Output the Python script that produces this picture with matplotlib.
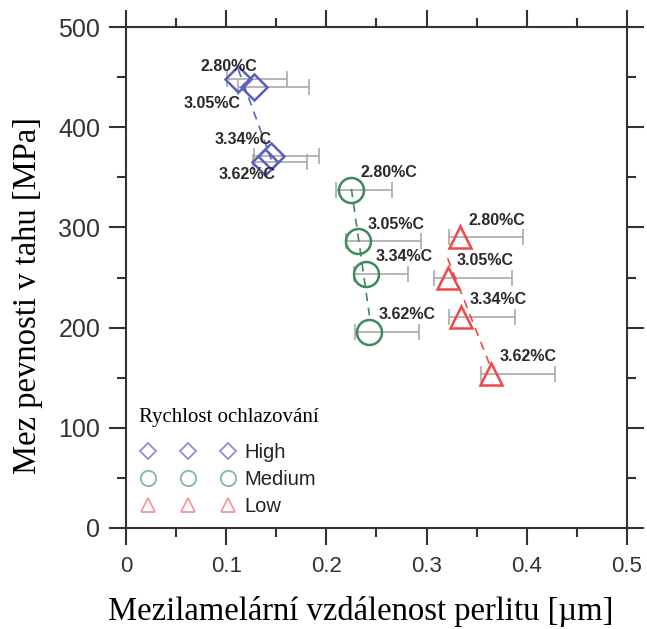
# plot.py - pearlite spacing vs tensile strength
import matplotlib
matplotlib.use("Agg")
import matplotlib.pyplot as plt
from matplotlib.lines import Line2D
from matplotlib.ticker import MultipleLocator, FuncFormatter
import numpy as np

# --- data ---
carbon = ["2.80%C", "3.05%C", "3.34%C", "3.62%C"]

high_x = [0.112, 0.128, 0.145, 0.139]
high_y = [448, 440, 371, 365]
high_lo = [0.101, 0.112, 0.128, 0.127]
high_hi = [0.161, 0.183, 0.193, 0.181]

medium_x = [0.225, 0.232, 0.240, 0.243]
medium_y = [337, 286, 254, 196]
medium_lo = [0.210, 0.220, 0.228, 0.229]
medium_hi = [0.266, 0.294, 0.281, 0.292]

low_x = [0.333, 0.321, 0.334, 0.364]
low_y = [290, 250, 211, 154]
low_lo = [0.322, 0.307, 0.322, 0.354]
low_hi = [0.396, 0.385, 0.388, 0.428]

series_names = ["High", "Medium", "Low"]

# label offsets (points) for each series, and alignment
high_offsets = [(-7, 9), (-30, -12), (-20, 12), (-13, -9)]
side_offsets = [(6.5, 12.5)] * 4

SANS = "Liberation Sans"
SERIF = "Liberation Serif"
DARK = "#333333"

fig = plt.figure(figsize=(6.47, 6.29), dpi=100)
ax = fig.add_axes([0.1947, 0.1606, 0.7743, 0.7964])

series = [
    (high_x, high_y, high_lo, high_hi, "D", 13, "#5a62b9", "#8a90d0", 8, high_offsets, "center"),
    (medium_x, medium_y, medium_lo, medium_hi, "o", 18, "#3c8b5b", "#80b99b", 11, side_offsets, "left"),
    (low_x, low_y, low_lo, low_hi, "^", 16, "#f04848", "#f39a9a", 10, side_offsets, "left"),
]

handles = []
for (x, y, lo, hi, mk, ms, col, lcol, lms, offs, ha), name in zip(series, series_names):
    x = np.array(x)
    y = np.array(y)
    xerr = [x - np.array(lo), np.array(hi) - x]
    ax.errorbar(x, y, xerr=xerr, fmt="none", ecolor="#a9a9a9", elinewidth=1.2,
                capsize=6, capthick=1.2, zorder=1)

    # linear fit drawn across the x range of the series
    k, b = np.polyfit(x, y, 1)
    xs = np.array([x.min(), x.max()])
    ax.plot(xs, k * xs + b, ls=(0, (5, 4)), color=col, lw=1.2, zorder=2)

    ax.plot(x, y, ls="none", marker=mk, ms=ms, mfc="none", mec=col, mew=1.8, zorder=3)

    for xi, yi, lab, off in zip(x, y, carbon, offs):
        ax.annotate(lab, (xi, yi), xytext=off, textcoords="offset points",
                    ha=ha, va="center", fontsize=11.5, fontweight="bold",
                    family=SANS, color="#2a2a2a", zorder=4)

    handles.append(Line2D([], [], ls="none", marker=mk, ms=lms, mfc="none",
                          mec=lcol, mew=1.3, label=name))

ax.set_xlim(0, 0.5)
ax.set_ylim(0, 500)
ax.xaxis.set_major_locator(MultipleLocator(0.1))
ax.xaxis.set_minor_locator(MultipleLocator(0.05))
ax.yaxis.set_major_locator(MultipleLocator(100))
ax.yaxis.set_minor_locator(MultipleLocator(50))
ax.xaxis.set_major_formatter(FuncFormatter(lambda v, p: f"{v:g}"))

ax.tick_params(which="both", direction="out", top=True, right=True,
               color=DARK, width=1.5, labelcolor=DARK)
ax.tick_params(which="major", length=12.5)
ax.tick_params(which="minor", length=6.5)
ax.tick_params(axis="x", labelsize=16, pad=8)
ax.tick_params(axis="y", labelsize=18, pad=6)
for lab in ax.get_xticklabels() + ax.get_yticklabels():
    lab.set_family(SANS)
for sp in ax.spines.values():
    sp.set_color(DARK)
    sp.set_linewidth(1.5)

ax.set_xlabel("Mezilamelární vzdálenost perlitu [µm]", family=SERIF, fontsize=23.5,
              color="black")
ax.set_ylabel("Mez pevnosti v tahu [MPa]", family=SERIF, fontsize=23.5,
              color="black")
ax.xaxis.set_label_coords(0.469, -0.135)
ax.yaxis.set_label_coords(-0.165, 0.463)

leg = ax.legend(handles=handles, loc="upper left", bbox_to_anchor=(0.010, 0.255),
                borderaxespad=0, frameon=False, numpoints=3, handlelength=4.6,
                handletextpad=0.5, labelspacing=0.4,
                prop={"family": SANS, "size": 14.5},
                title="Rychlost ochlazování",
                title_fontproperties={"family": SERIF, "size": 15})
leg._legend_box.sep = 11
for t in leg.get_texts():
    t.set_color("#222222")

fig.savefig("out.png", dpi=100)
